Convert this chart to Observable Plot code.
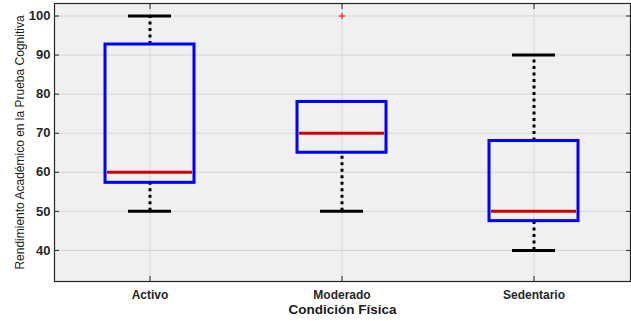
<!DOCTYPE html>
<html>
<head>
<meta charset="utf-8">
<script src="https://cdn.jsdelivr.net/npm/d3@7"></script>
<script src="https://cdn.jsdelivr.net/npm/@observablehq/plot@0.6"></script>
<style>
  html, body { margin: 0; padding: 0; background: #fff; }
  #chart svg { display: block; font-family: "Liberation Sans", Arial, sans-serif; }
</style>
</head>
<body>
<div id="chart"></div>
<script>
const categories = ["Activo", "Moderado", "Sedentario"];
const whiskerLow = [50, 50, 40];
const q1 = [57.3, 65, 47.5];
const median = [60, 70, 50];
const q3 = [92.7, 78, 68];
const whiskerHigh = [100, 78, 90];
const outlierCategory = ["Moderado"];
const outlierValue = [100];
const yTicks = [40, 50, 60, 70, 80, 90, 100];
const xLabel = "Condición Física";
const yLabel = "Rendimiento Académico en la Prueba Cognitiva";

const boxes = categories.map((c, i) => ({
  cat: c, lo: whiskerLow[i], q1: q1[i], med: median[i], q3: q3[i], hi: whiskerHigh[i]
}));
const outliers = outlierCategory.map((c, i) => ({cat: c, v: outlierValue[i]}));

const dark = "#262626";
const chart = Plot.plot({
  width: 631,
  height: 321,
  marginLeft: 54,
  marginRight: 1,
  marginTop: 3,
  marginBottom: 40,
  style: {fontFamily: "'Liberation Sans', Arial, sans-serif", fontSize: "12px", color: dark, background: "#fff"},
  x: {type: "band", domain: categories, paddingInner: 0.536, paddingOuter: 0.268, label: null},
  y: {domain: [32.05, 103.2], label: null},
  marks: [
    Plot.frame({fill: "#f0f0f0", stroke: "none"}),
    Plot.ruleY(yTicks, {stroke: "#d6d6d6", strokeWidth: 1}),
    Plot.ruleX(categories, {stroke: "#d6d6d6", strokeWidth: 1}),
    // whiskers
    Plot.ruleX(boxes.filter(d => d.hi > d.q3), {x: "cat", y1: "q3", y2: "hi", stroke: "#000", strokeWidth: 3, strokeDasharray: "3,3.5"}),
    Plot.ruleX(boxes.filter(d => d.lo < d.q1), {x: "cat", y1: "lo", y2: "q1", stroke: "#000", strokeWidth: 3, strokeDasharray: "3,3.5"}),
    // caps
    Plot.tickY(boxes.filter(d => d.hi > d.q3), {x: "cat", y: "hi", stroke: "#000", strokeWidth: 3, insetLeft: 23, insetRight: 23}),
    Plot.tickY(boxes.filter(d => d.lo < d.q1), {x: "cat", y: "lo", stroke: "#000", strokeWidth: 3, insetLeft: 23, insetRight: 23}),
    // boxes
    Plot.barY(boxes, {x: "cat", y1: "q1", y2: "q3", fill: "none", stroke: "#0000ff", strokeWidth: 3}),
    // medians
    Plot.tickY(boxes, {x: "cat", y: "med", stroke: "#d40000", strokeWidth: 3, insetLeft: 2, insetRight: 2}),
    // outliers
    Plot.dot(outliers, {x: "cat", y: "v", symbol: "plus", r: 2.2, stroke: "#ff0000", strokeWidth: 1}),
    Plot.frame({stroke: dark, strokeWidth: 1.2}),
    Plot.axisY(yTicks, {anchor: "left", tickSize: -5, tickPadding: 9, fontSize: 13, fontWeight: "bold", fill: dark, stroke: dark, label: null}),
    Plot.axisY(yTicks, {anchor: "right", tickSize: -5, tickFormat: () => "", stroke: dark, label: null}),
    Plot.axisX({anchor: "bottom", tickSize: -5, tickPadding: 14, fontSize: 12, fontWeight: "bold", fill: dark, stroke: dark, label: null}),
    Plot.axisX({anchor: "top", tickSize: -5, tickFormat: () => "", stroke: dark, label: null}),
    Plot.text([xLabel], {frameAnchor: "bottom", textAnchor: "middle", dy: 32, text: d => d, fontSize: 13.5, fontWeight: "bold", fill: "#1a1a1a"}),
    Plot.text([yLabel], {frameAnchor: "left", textAnchor: "middle", dx: -34, rotate: -90, text: d => d, fontSize: 12, fill: "#1a1a1a"})
  ]
});
document.getElementById("chart").appendChild(chart);
</script>
</body>
</html>
